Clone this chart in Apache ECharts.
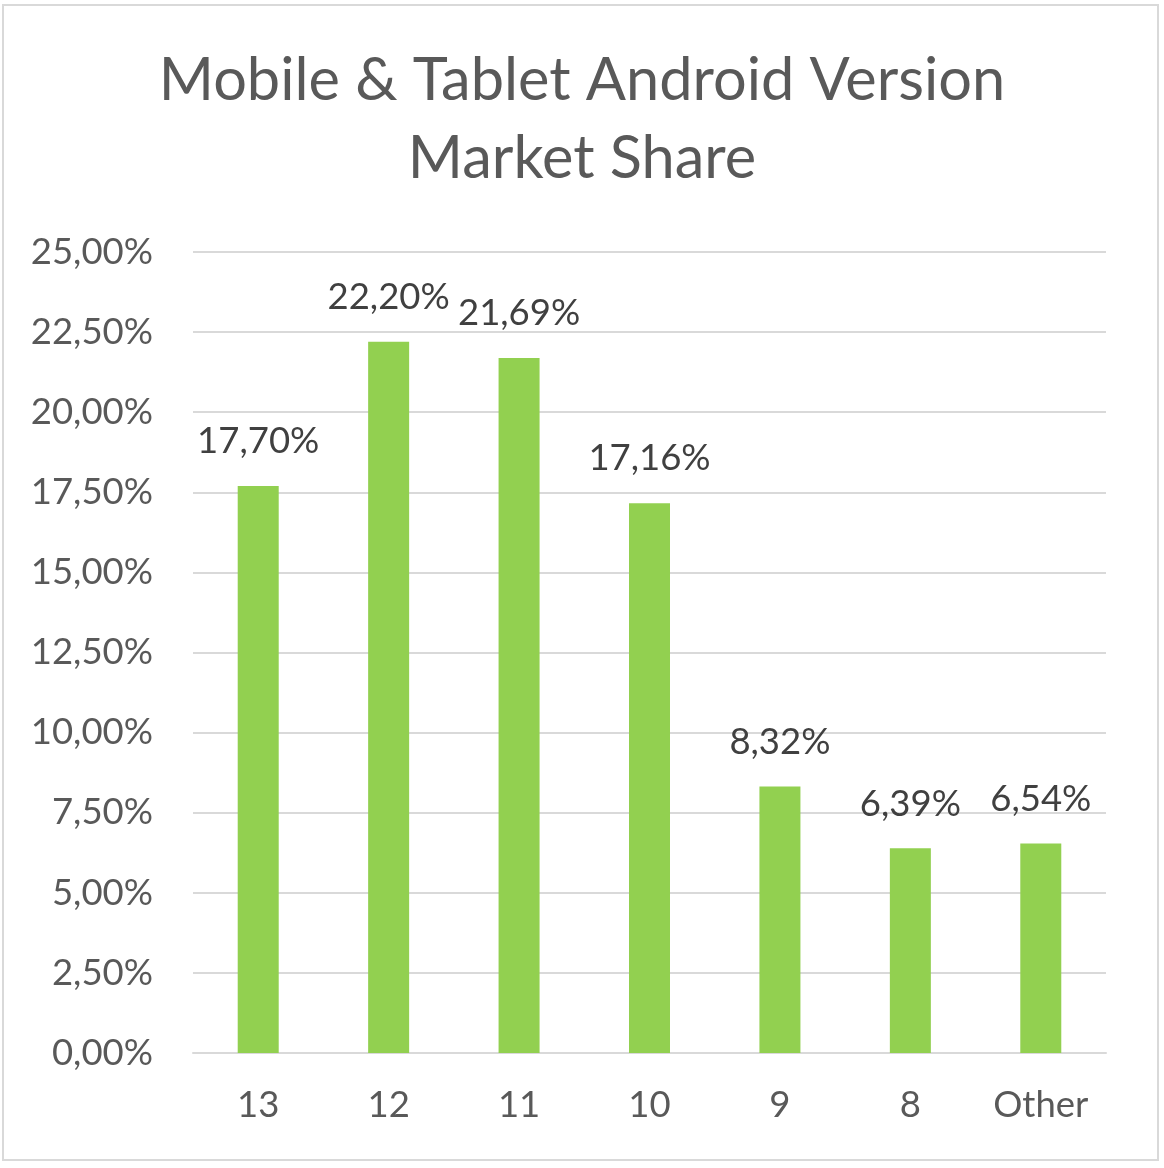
<!DOCTYPE html>
<html><head><meta charset="utf-8">
<script src="https://cdn.jsdelivr.net/npm/echarts@6/dist/echarts.min.js"></script>
<style>html,body{margin:0;padding:0;background:#fff}#c{width:1164px;height:1168px}</style>
</head><body><div id="c"></div>
<script>
const titleText = 'Mobile & Tablet Android Version\nMarket Share';
const categories = ['13', '12', '11', '10', '9', '8', 'Other'];
const shares = [17.70, 22.20, 21.69, 17.16, 8.32, 6.39, 6.54];
const yMin = 0, yMax = 25, yStep = 2.5;

const fmt = v => v.toFixed(2).replace('.', ',') + '%';
const FONT = 'Lato';
const chart = echarts.init(document.getElementById('c'));
chart.setOption({
  animation: false,
  backgroundColor: '#ffffff',
  graphic: [{
    type: 'rect', shape: {x: 3, y: 5, width: 1155, height: 1155},
    style: {fill: 'none', stroke: '#d9d9d9', lineWidth: 2}, silent: true
  }],
  title: {
    text: titleText, left: 'center', top: 37, padding: [5, 19, 5, 5],
    textStyle: {fontFamily: FONT, fontSize: 59.5, fontWeight: 'normal', color: '#595959', lineHeight: 78}
  },
  grid: {left: 193, right: 58, top: 252, bottom: 115, containLabel: false},
  xAxis: {
    type: 'category', data: categories,
    axisLine: {show: true, lineStyle: {color: '#d9d9d9', width: 2}},
    axisTick: {show: false},
    axisLabel: {fontFamily: FONT, fontSize: 36.5, color: '#595959', margin: 34}
  },
  yAxis: {
    type: 'value', min: yMin, max: yMax, interval: yStep,
    axisLine: {show: false}, axisTick: {show: false},
    splitLine: {lineStyle: {color: '#d9d9d9', width: 2}},
    axisLabel: {fontFamily: FONT, fontSize: 36.5, color: '#595959', margin: 40, formatter: fmt}
  },
  series: [{
    type: 'bar', data: shares, barWidth: 41,
    itemStyle: {color: '#92d050'},
    label: {show: true, position: 'top', distance: 26, fontFamily: FONT, fontSize: 36.5, color: '#404040',
      formatter: p => fmt(p.value)}
  }]
});
</script></body></html>
